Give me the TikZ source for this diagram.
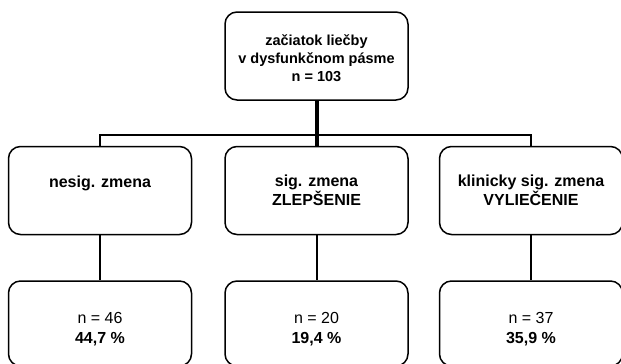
\documentclass[tikz,border=0pt]{standalone}
\usepackage{fontspec}
\setmainfont{Liberation Sans}
\usetikzlibrary{positioning}
\tikzset{
    box/.style={draw, line width=1.5pt, rounded corners=12pt, align=center, minimum width=183pt, minimum height=88pt, inner sep=2pt},
    headbox/.style={box, font=\fontsize{14.5}{18}\selectfont\bfseries},
    groupbox/.style={box, font=\fontsize{16}{18.5}\selectfont\bfseries},
    resultbox/.style={box, minimum height=85pt, font=\fontsize{16}{20}\selectfont},
    trunk/.style={line width=4pt},
    bus/.style={line width=2.6pt},
    link/.style={line width=2pt}
}
\newcommand{\lift}[1]{\rule{0pt}{#1}}

\begin{document}
\begin{tikzpicture}
    \useasboundingbox (0,0) rectangle (621pt,-364pt);
    \node[headbox] (start) at (316.5pt,-56pt) {\lift{16pt}začiatok liečby\\v dysfunkčnom pásme\\n = 103};
    \node[groupbox, below=45pt of start] (sig) {sig. zmena\\ZLEPŠENIE};
    \node[groupbox, left=32pt of sig] (nonsig) {nesig. zmena\\\mbox{}};
    \node[groupbox, right=30pt of sig] (clin) {klinicky sig. zmena\\VYLIEČENIE};
    \node[resultbox, below=45pt of nonsig] (nonsigres) {\lift{23pt}n = 46\\\textbf{44,7 \%}};
    \node[resultbox, below=45pt of sig] (sigres) {\lift{23pt}n = 20\\\textbf{19,4 \%}};
    \node[resultbox, below=45pt of clin] (clinres) {\lift{23pt}n = 37\\\textbf{35,9 \%}};
    \coordinate (fork) at (316.5pt,-135pt);

    \draw[trunk] (start) -- (sig);
    \draw[bus] (nonsig.north) |- (fork) -| (clin.north);
    \draw[link] (nonsig) -- (nonsigres);
    \draw[link] (sig) -- (sigres);
    \draw[link] (clin) -- (clinres);
\end{tikzpicture}
\end{document}
